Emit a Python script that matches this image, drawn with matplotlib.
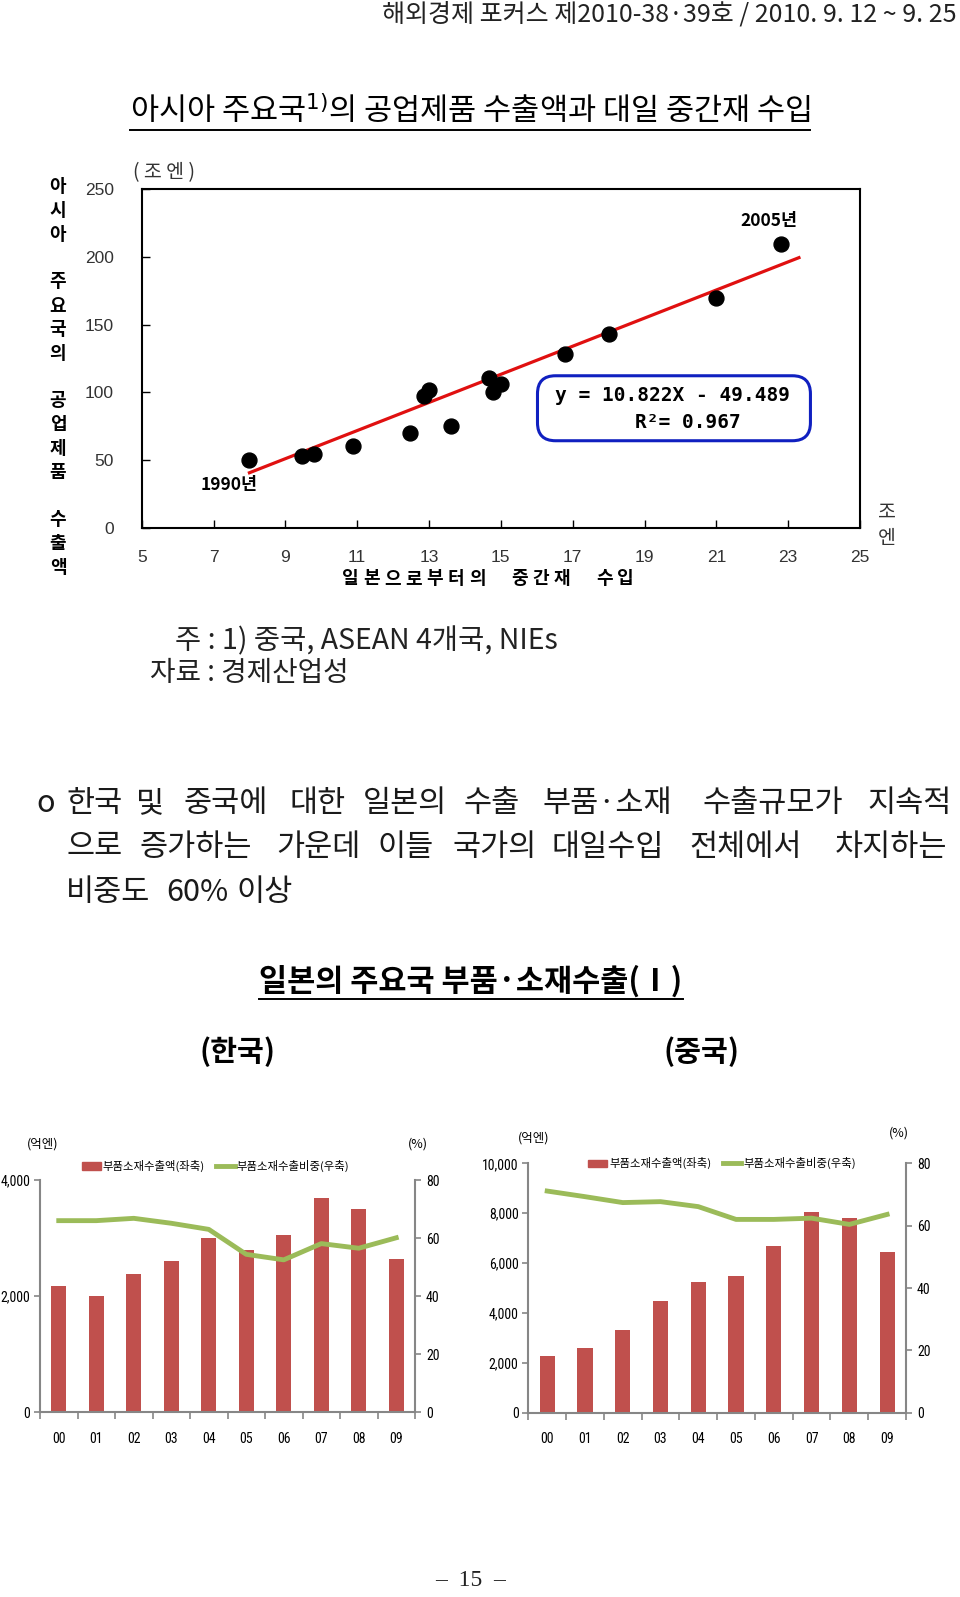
import matplotlib
matplotlib.use('Agg')
import matplotlib.pyplot as plt
from matplotlib import font_manager
from matplotlib.patches import FancyBboxPatch, Patch
from matplotlib.lines import Line2D
from matplotlib.ticker import FuncFormatter

KR = 'Noto Sans CJK KR'
plt.rcParams['font.family'] = [KR, 'DejaVu Sans']

# pick a narrow latin face for the small chart ticks if one exists
_names = {f.name for f in font_manager.fontManager.ttflist}
NARROW, NARROW_SIZE = 'Liberation Sans', 9
for cand in ['Liberation Sans Narrow', 'Roboto Condensed', 'Open Sans Condensed',
             'DejaVu Sans Condensed']:
    if cand in _names:
        NARROW, NARROW_SIZE = cand, 10
        break

W, H = 960, 1597

# --- scatter: Japan intermediate imports (x) vs. industrial exports (y), 1990~2005
imp_x = [8.0, 9.47, 9.8, 10.88, 12.47, 12.87, 13.0, 13.6, 14.68, 14.79, 15.0, 16.8, 18.02, 21.0, 22.81]
exp_y = [50, 53, 54.4, 60.4, 70.2, 97.3, 102, 74.9, 110.4, 100.5, 106, 128.3, 143.3, 170, 209.8]
fit_x = [8.0, 23.3]
fit_y = [40.6, 199.5]

# --- bar/line charts
years = ['00', '01', '02', '03', '04', '05', '06', '07', '08', '09']
kr_amount = [2181, 2009, 2376, 2605, 3007, 2789, 3047, 3684, 3495, 2640]
kr_share = [66.0, 66.0, 66.8, 65.1, 63.0, 54.4, 52.5, 58.1, 56.5, 60.1]
cn_amount = [2286, 2607, 3316, 4479, 5241, 5468, 6684, 8035, 7807, 6457]
cn_share = [71.1, 69.3, 67.4, 67.7, 66.1, 62.0, 62.0, 62.4, 60.4, 63.6]

fig = plt.figure(figsize=(W / 100, H / 100), dpi=100)


def px_axes(l, t, r, b):
    return fig.add_axes([l / W, 1 - b / H, (r - l) / W, (b - t) / H])


def put(x, y, s, **kw):
    return fig.text(x / W, 1 - y / H, s, **kw)


def hline(x0, x1, y, lw=1.2, color='black'):
    fig.add_artist(Line2D([x0 / W, x1 / W], [1 - y / H, 1 - y / H],
                          transform=fig.transFigure, color=color, lw=lw))


# header
put(957, 14, '해외경제 포커스 제2010-38·39호 / 2010. 9. 12 ~ 9. 25',
    ha='right', va='center', fontsize=18, color='#222222')

# title
t = put(470, 111, '아시아 주요국$^{1)}$의 공업제품 수출액과 대일 중간재 수입',
        ha='center', va='center', fontsize=22)
fig.canvas.draw()
bb = t.get_window_extent()
hline(bb.x0, bb.x1, 130, lw=1.4)

# scatter chart
ax = px_axes(141.7, 189.3, 860, 527.7)
ax.scatter(imp_x, exp_y, s=115, color='black', zorder=3)
ax.plot(fit_x, fit_y, color='#E01010', lw=2.3, zorder=2)
ax.set_xlim(5, 25)
ax.set_ylim(0, 250)
ax.set_xticks(range(5, 26, 2))
ax.set_yticks(range(0, 251, 50))
for s in ax.spines.values():
    s.set_linewidth(1.5)
ax.tick_params(axis='both', direction='in', length=6, width=1, labelsize=12.5,
               labelcolor='#333333')
ax.tick_params(axis='x', pad=16)
ax.tick_params(axis='y', pad=20)
for lab in ax.get_xticklabels() + ax.get_yticklabels():
    lab.set_fontfamily('Liberation Sans')

ax.text(7.43, 31.5, '1990년', ha='center', va='center', fontsize=12.5, fontweight='bold')
ax.text(22.47, 226.5, '2005년', ha='center', va='center', fontsize=12.5, fontweight='bold')
box = FancyBboxPatch((0.551, 0.257), 0.380, 0.192, transform=ax.transAxes,
                     boxstyle='round,pad=0,rounding_size=0.025',
                     mutation_aspect=718.3 / 338.4,
                     fc='white', ec='#1020C0', lw=2.2, zorder=4)
ax.add_patch(box)
ax.text(19.78, 97.5, 'y = 10.822X - 49.489', ha='center', va='center', fontsize=14,
        fontweight='bold', family='DejaVu Sans Mono', zorder=5)
ax.text(20.2, 77.6, 'R²= 0.967', ha='center', va='center', fontsize=14,
        fontweight='bold', family='DejaVu Sans Mono', zorder=5)

put(164, 173, '( 조 엔 )', ha='center', va='center', fontsize=14, color='#333333')
side = '아시아 주요국의 공업제품 수출액'
for i, ch in enumerate(side):
    if ch != ' ':
        put(58, 186.7 + i * 23.8, ch, ha='center', va='center', fontsize=13,
            fontweight='bold')
xlab = '일본으로부터의 중간재 수입'
for i, ch in enumerate(xlab):
    if ch != ' ':
        put(350 + i * 21.2, 579, ch, ha='center', va='center', fontsize=13,
            fontweight='bold')
put(887, 512, '조', ha='center', va='center', fontsize=14, color='#333333')
put(887, 538, '엔', ha='center', va='center', fontsize=14, color='#333333')

# notes
put(175, 641, '주 : 1) 중국, ASEAN 4개국, NIEs', ha='left', va='center', fontsize=20.5,
    color='#222222')
put(150, 673, '자료 : 경제산업성', ha='left', va='center', fontsize=20, color='#222222')

# body text
lines = [
    (804, [(36, 'o'), (66, '한국'), (136, '및'), (183, '중국에'), (289, '대한'),
           (363, '일본의'), (463, '수출'), (542, '부품·소재'), (702, '수출규모가'),
           (867, '지속적')]),
    (847, [(66, '으로'), (139, '증가하는'), (276, '가운데'), (377, '이들'), (453, '국가의'),
           (552, '대일수입'), (689, '전체에서'), (835, '차지하는')]),
    (893, [(66, '비중도'), (166, '60%'), (236, '이상')]),
]
for y, words in lines:
    for x, w in words:
        put(x, y, w, ha='left', va='center', fontsize=22, color='#1a1a1a')

# section title
t2 = put(471, 981, '일본의 주요국 부품·소재수출(Ⅰ)', ha='center', va='center',
         fontsize=22, fontweight='bold')
fig.canvas.draw()
bb = t2.get_window_extent()
hline(bb.x0, bb.x1, 999, lw=1.4)
put(237, 1052, '(한국)', ha='center', va='center', fontsize=21, fontweight='bold')
put(702, 1052, '(중국)', ha='center', va='center', fontsize=21, fontweight='bold')

GRAY = '#868686'
BAR = '#C0504D'
LINE = '#9BBB59'


def combo(rect, amount, share, ymax, ystep, leg_xy, unit_xy, pct_xy):
    a = px_axes(*rect)
    xs = range(len(years))
    a.bar(xs, amount, width=0.4, color=BAR, zorder=2)
    a.set_xlim(-0.5, len(years) - 0.5)
    a.set_ylim(0, ymax)
    a.set_yticks(range(0, ymax + 1, ystep))
    a.yaxis.set_major_formatter(FuncFormatter(lambda v, p: f'{int(v):,}'))
    a.set_xticks(list(xs))
    a.set_xticklabels(years)
    a.set_xticks([i - 0.5 for i in range(len(years) + 1)], minor=True)
    a.tick_params(axis='x', which='major', length=0, pad=14)
    a.tick_params(axis='x', which='minor', length=5, color=GRAY, width=1.2)
    a.tick_params(axis='y', length=4, color=GRAY, width=1.2, pad=3)
    a.spines['top'].set_visible(False)
    a.spines['right'].set_visible(False)
    for k in ('left', 'bottom'):
        a.spines[k].set_color(GRAY)
        a.spines[k].set_linewidth(1.5)
    b = a.twinx()
    b.plot(list(xs), share, color=LINE, lw=3.5, zorder=3)
    b.set_ylim(0, 80)
    b.set_yticks(range(0, 81, 20))
    b.spines['top'].set_visible(False)
    b.spines['left'].set_visible(False)
    b.spines['bottom'].set_visible(False)
    b.spines['right'].set_color(GRAY)
    b.spines['right'].set_linewidth(1.5)
    b.tick_params(axis='y', length=4, color=GRAY, width=1.2, pad=4)
    for lab in a.get_xticklabels() + a.get_yticklabels() + b.get_yticklabels():
        lab.set_fontfamily(NARROW)
        lab.set_fontsize(NARROW_SIZE)
    handles = [Patch(color=BAR), Line2D([], [], color=LINE, lw=3.5)]
    b.legend(handles, ['부품소재수출액(좌축)', '부품소재수출비중(우축)'], ncol=2,
             loc='center', bbox_to_anchor=leg_xy, frameon=False, fontsize=8.2,
             handlelength=1.6, handleheight=0.6, handletextpad=0.2,
             columnspacing=1.0, borderaxespad=0)
    put(*unit_xy, '(억엔)', ha='center', va='center', fontsize=9)
    put(*pct_xy, '(%)', ha='center', va='center', fontsize=9)
    return a


combo((40, 1180, 415, 1412.3), kr_amount, kr_share, 4000, 2000,
      (0.469, 1.06), (43, 1144), (418, 1144))
combo((528.3, 1163.3, 906, 1412.7), cn_amount, cn_share, 10000, 2000,
      (0.513, 1.0), (534, 1138), (899, 1133))

put(471, 1581, '–  15  –', ha='center', va='center', fontsize=17, color='#222222',
    family='Liberation Serif')

fig.savefig('out.png', dpi=100)
